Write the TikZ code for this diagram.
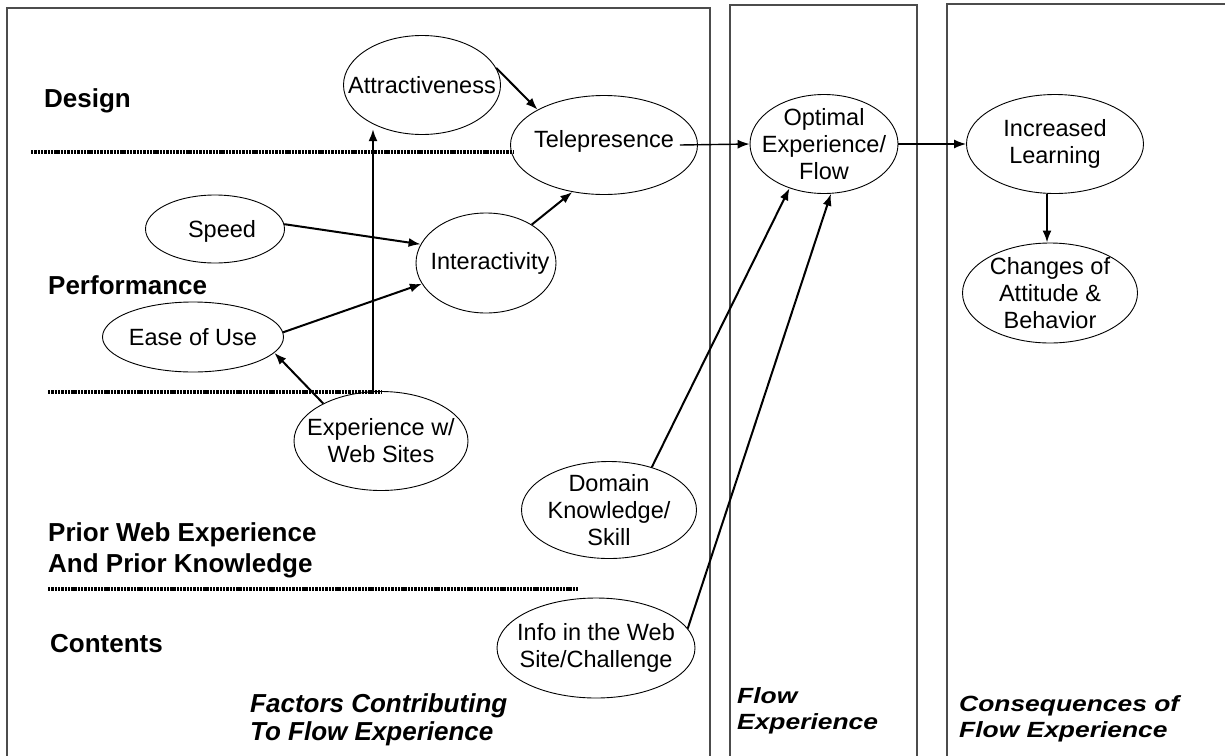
\documentclass[tikz,border=0pt]{standalone}
\usepackage{fontspec}
\setmainfont{Liberation Sans}
\newfontfamily\anchofont[FakeStretch=1.2]{Liberation Sans}
\usetikzlibrary{arrows.meta,shapes.geometric}

\begin{document}
\begin{tikzpicture}[x=1pt,y=-1pt,
  marco/.style={line width=1.2pt, black!70},
  punteada/.style={line width=3.2pt, dash pattern=on 2.4pt off 0.9pt},
  burbuja/.style={draw, ellipse, line width=0.9pt, inner sep=0pt},
  texto/.style={font=\fontsize{23.5}{27}\selectfont, align=center, inner sep=0pt},
  zona/.style={font=\bfseries\fontsize{26}{31}\selectfont, align=left, anchor=base west, inner sep=0pt},
  titulo/.style={font=\bfseries\itshape\fontsize{26}{28}\selectfont, align=left, anchor=base west, inner sep=0pt},
  ancho/.style={font=\anchofont\bfseries\itshape\fontsize{22}{26}\selectfont, align=left, anchor=base west, inner sep=0pt},
  flecha/.style={-{Latex[length=12pt,width=9pt]}, line width=2pt}]
\useasboundingbox (0,0) rectangle (1225,755);

% Marcos
\draw[marco] (7,756) -- (7,8) -- (710,8) -- (710,756);
\draw[marco] (730,756) -- (730,5) -- (917,5) -- (917,756);
\draw[marco] (947,756) -- (947,4) -- (1226,4);

% Lineas punteadas
\draw[punteada] (31,152) -- (514,152);
\draw[punteada] (48,392) -- (382,392);
\draw[punteada] (48,589) -- (579,589);

% Zonas
\node[zona] (design) at (44,107) {Design};
\node[zona] (perf) at (48,294) {Performance};
\node[zona] (prior) at (48,572) {Prior Web Experience\\And Prior Knowledge};
\node[zona] (cont) at (50,652) {Contents};

% Titulos
\node[titulo] (factores) at (250,740) {Factors Contributing\\To Flow Experience};
\node[ancho] (flujo) at (737,729) {Flow\\Experience};
\node[ancho] (consec) at (959,737) {Consequences of\\Flow Experience};

% Burbujas
\node[burbuja, minimum width=157pt, minimum height=99pt, label={[texto]center:Attractiveness}] (attr) at (422,85) {};
\node[burbuja, minimum width=187pt, minimum height=99pt, label={[texto, yshift=4pt]center:Telepresence}] (tele) at (604,145) {};
\node[burbuja, minimum width=139pt, minimum height=68pt, label={[texto, xshift=7pt, yshift=-2pt]center:Speed}] (speed) at (215,229) {};
\node[burbuja, minimum width=140pt, minimum height=100pt, label={[texto, xshift=4pt]center:Interactivity}] (inter) at (486,263) {};
\node[burbuja, minimum width=181pt, minimum height=70pt, label={[texto]center:Ease of Use}] (ease) at (193,337) {};
\node[burbuja, minimum width=174pt, minimum height=99pt, label={[texto]center:Experience w/\\Web Sites}] (exp) at (381,441) {};
\node[burbuja, minimum width=175pt, minimum height=97pt, label={[texto]center:Domain\\Knowledge/\\Skill}] (dom) at (609,510) {};
\node[burbuja, minimum width=198pt, minimum height=100pt, label={[texto]center:Info in the Web\\Site/Challenge}] (info) at (596,648) {};
\node[burbuja, minimum width=148pt, minimum height=99pt, label={[texto]center:Optimal\\Experience/\\Flow}] (opt) at (824,144) {};
\node[burbuja, minimum width=177pt, minimum height=99pt, label={[texto]center:Increased\\Learning}] (inc) at (1055,144) {};
\node[burbuja, minimum width=175pt, minimum height=100pt, label={[texto]center:Changes of\\Attitude \&\\Behavior}] (chg) at (1050,293) {};

% Flechas
\draw[flecha] (attr.13) -- (tele.152);
\draw[flecha] (speed.4) -- (inter.164);
\draw[flecha] (ease.3) -- (inter.198);
\draw[flecha] (inter.40) -- (tele.236);
\draw[flecha] (exp.147) -- (ease.349);
\draw[flecha] ([xshift=-8pt]exp.north) -- ([xshift=-8pt]exp.north |- attr.230);
\draw[flecha] (dom.45) -- (opt.232);
\draw[flecha] (info.12) -- (opt.278);
\draw[flecha, line width=1.4pt] ([xshift=-18pt]tele.east) -- (opt.west);
\draw[flecha, line width=1.4pt] (opt.east) -- (inc.west);
\draw[flecha] ([xshift=-8pt]inc.south) -- ([xshift=-8pt]inc.south |- chg.north);

\end{tikzpicture}
\end{document}
